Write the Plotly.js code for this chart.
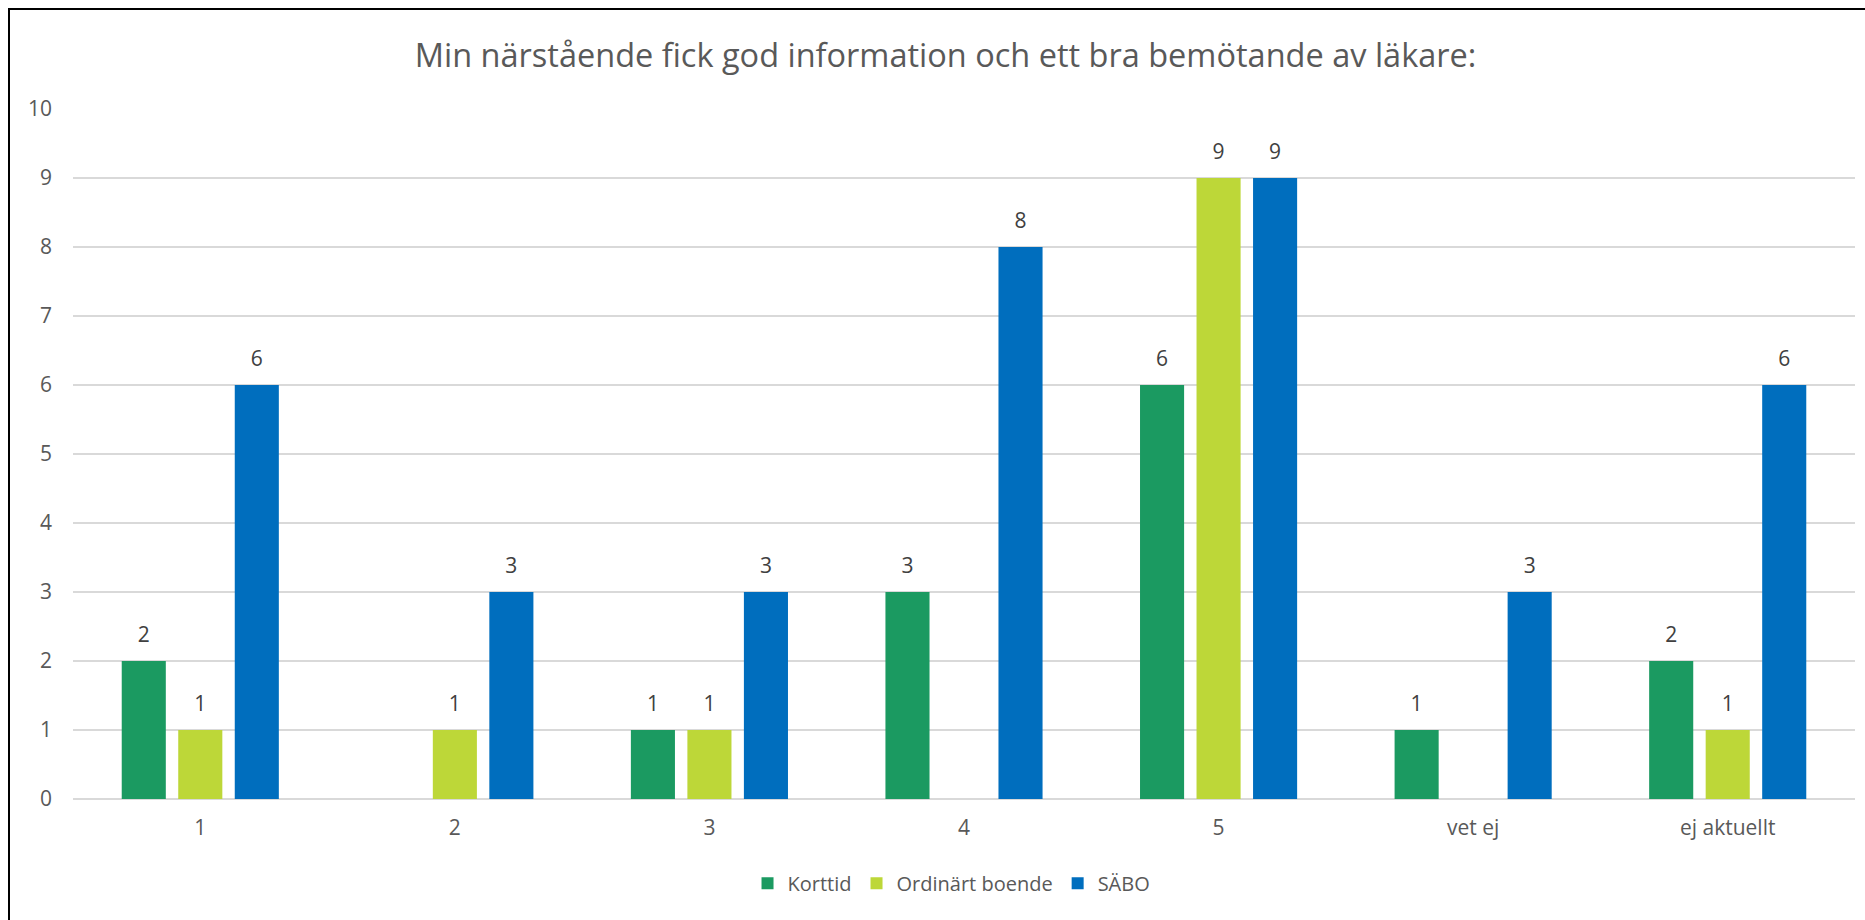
<!DOCTYPE html>
<html>
<head>
<meta charset="utf-8">
<script src="https://cdn.plot.ly/plotly-3.0.1.min.js"></script>
<style>
  html, body { margin: 0; padding: 0; overflow: hidden; background: #fff; }
  #chart { width: 1865px; height: 920px; }
  #frame { position: absolute; left: 8px; top: 8px; width: 2000px; height: 1000px;
           border-left: 2px solid #000; border-top: 2px solid #000; pointer-events: none; }
</style>
</head>
<body>
<div id="chart"></div>
<div id="frame"></div>
<script>
const categories = ["1", "2", "3", "4", "5", "vet ej", "ej aktuellt"];
const korttid = [2, null, 1, 3, 6, 1, 2];
const ordinart = [1, 1, 1, null, 9, null, 1];
const sabo = [6, 3, 3, 8, 9, 3, 6];
const seriesNames = ["Korttid", "Ordinärt boende", "SÄBO"];
const seriesColors = ["#1B9A61", "#BDD738", "#006EBE"];
const titleText = "Min närstående fick god information och ett bra bemötande av läkare:";

const font = "'Open Sans', 'Noto Sans', sans-serif";
const seriesValues = [korttid, ordinart, sabo];

const bars = seriesValues.map((vals, i) => ({
  type: "bar",
  name: seriesNames[i],
  x: categories,
  y: vals,
  offsetgroup: String(i),
  marker: { color: seriesColors[i] },
  hoverinfo: "x+y+name"
}));

const labels = seriesValues.map((vals, i) => ({
  type: "scatter",
  mode: "markers+text",
  x: categories,
  y: vals,
  offsetgroup: String(i),
  text: vals.map(v => v === null ? "" : String(v)),
  textposition: "top center",
  textfont: { family: font, size: 21, color: "#404040" },
  marker: { size: 20, opacity: 0, color: seriesColors[i] },
  cliponaxis: false,
  showlegend: false,
  hoverinfo: "skip"
}));

const layout = {
  width: 1865,
  height: 920,
  paper_bgcolor: "#fff",
  plot_bgcolor: "#fff",
  margin: { l: 73, r: 10, t: 108.5, b: 121 },
  font: { family: font, size: 21, color: "#595959" },
  title: {
    text: titleText,
    font: { family: font, size: 32.5, color: "#595959" },
    x: 0.507, xanchor: "center",
    y: 1 - 56 / 920, yanchor: "middle"
  },
  barmode: "group",
  bargap: 0.334,
  bargroupgap: 0.22,
  scattermode: "group",
  scattergap: 0.334,
  xaxis: {
    type: "category",
    showgrid: false,
    showline: false,
    zeroline: false,
    ticks: "",
    ticklabelstandoff: 14,
    tickfont: { family: font, size: 21, color: "#595959" }
  },
  yaxis: {
    range: [0, 10],
    dtick: 1,
    tick0: 0,
    showgrid: true,
    gridcolor: "#D9D9D9",
    gridwidth: 1.5,
    zeroline: true,
    zerolinecolor: "#D9D9D9",
    zerolinewidth: 1.5,
    showline: false,
    ticks: "",
    ticklabelstandoff: 20,
    tickfont: { family: font, size: 21, color: "#595959" }
  },
  legend: {
    orientation: "h",
    x: 0.493, xanchor: "center",
    y: -0.122, yanchor: "middle",
    font: { family: font, size: 20, color: "#595959" },
    itemwidth: 30
  },
  showlegend: true
};

Plotly.newPlot("chart", bars.concat(labels), layout, { displayModeBar: false, staticPlot: true });
</script>
</body>
</html>
